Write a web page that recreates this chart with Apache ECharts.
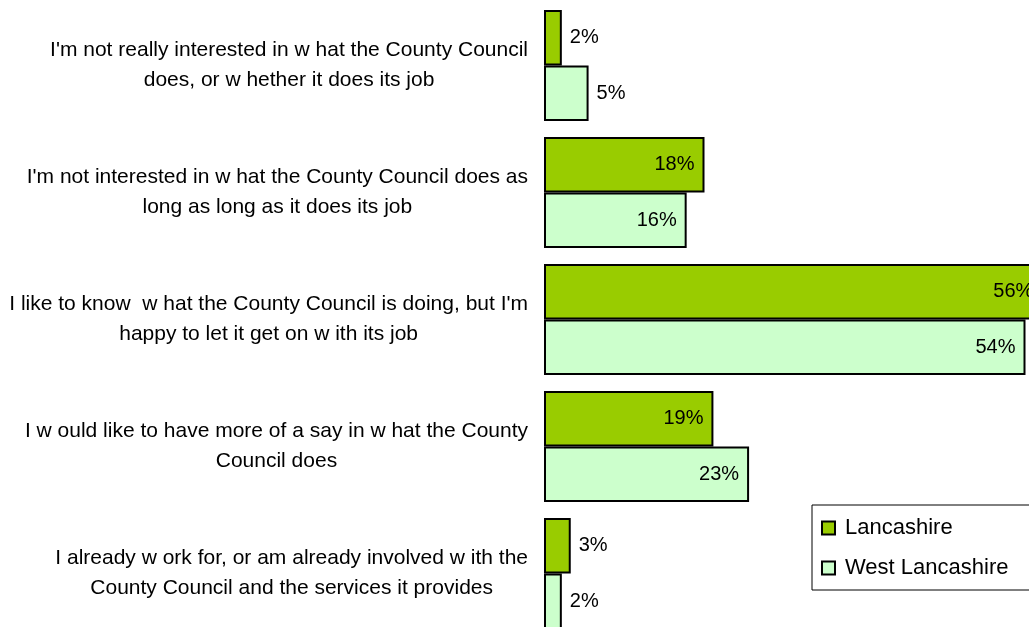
<!DOCTYPE html>
<html><head><meta charset="utf-8">
<script src="https://cdn.jsdelivr.net/npm/echarts@6/dist/echarts.min.js"></script>
<style>html,body{margin:0;padding:0;background:#fff}#c{width:1029px;height:627px}</style>
</head><body><div id="c"></div>
<script>
const categories = [
  "I'm not really interested in w hat the County Council\ndoes, or w hether it does its job",
  "I'm not interested in w hat the County Council does as\nlong as long as it does its job",
  "I like to know  w hat the County Council is doing, but I'm\nhappy to let it get on w ith its job",
  "I w ould like to have more of a say in w hat the County\nCouncil does",
  "I already w ork for, or am already involved w ith the\nCounty Council and the services it provides"
];
const seriesNames = ["Lancashire", "West Lancashire"];
const lancashire = [2, 18, 56, 19, 3];
const westLancashire = [5, 16, 54, 23, 2];

const colors = ['#99CC00', '#CCFFCC'];
const font = 'Liberation Sans, Arial, sans-serif';

function mkData(vals) {
  return vals.map(v => ({
    value: v,
    label: v >= 10 ? {position: 'insideRight', distance: 10} : {position: 'right', distance: 8}
  }));
}

const chart = echarts.init(document.getElementById('c'));
chart.setOption({
  animation: false,
  grid: {left: 544, top: 2, right: -50, bottom: -10, containLabel: false, outerBoundsMode: 'none'},
  xAxis: {type: 'value', min: 0, max: 60, show: false},
  yAxis: {
    type: 'category', data: categories, inverse: true,
    axisLine: {show: false}, axisTick: {show: false},
    axisLabel: {
      margin: 16, color: '#000', fontFamily: font, fontSize: 21, lineHeight: 30,
      formatter: v => v.split('\n').map(l => '{c|' + l + '}').join('\n'),
      rich: {c: {align: 'center', fontFamily: font, fontSize: 21, lineHeight: 30, color: '#000'}}
    }
  },
  legend: {
    orient: 'vertical', left: 812, top: 505, itemWidth: 13, itemHeight: 13, itemGap: 18,
    padding: [12, 60, 11, 9], icon: 'rect',
    borderColor: '#000', borderWidth: 1, backgroundColor: '#fff',
    textStyle: {fontFamily: font, fontSize: 22, color: '#000', padding: [0, 0, 0, 5]},
    data: seriesNames
  },
  series: [
    {name: seriesNames[0], type: 'bar', data: mkData(lancashire), barGap: '0%', barCategoryGap: '12.6%',
     itemStyle: {color: colors[0], borderColor: '#000', borderWidth: 2},
     label: {show: true, formatter: '{c}%', color: '#000', fontFamily: font, fontSize: 20}},
    {name: seriesNames[1], type: 'bar', data: mkData(westLancashire), barGap: '0%', barCategoryGap: '12.6%',
     itemStyle: {color: colors[1], borderColor: '#000', borderWidth: 2},
     label: {show: true, formatter: '{c}%', color: '#000', fontFamily: font, fontSize: 20}}
  ]
});
</script></body></html>
